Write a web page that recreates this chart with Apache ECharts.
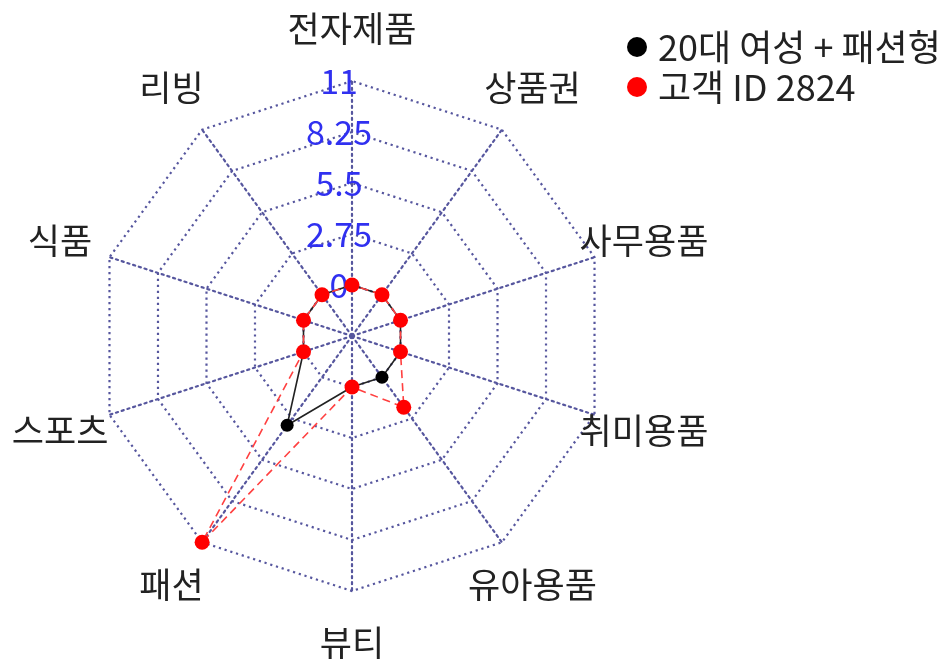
<!DOCTYPE html>
<html>
<head>
<meta charset="utf-8">
<script src="https://cdn.jsdelivr.net/npm/echarts@6/dist/echarts.min.js"></script>
<style>
	html, body { margin: 0; padding: 0; background: #fff; }
	#main { width: 946px; height: 663px; }
</style>
</head>
<body>
<div id="main"></div>
<script>
	// 축 순서 (echarts radar는 반시계 방향이라 화면에서는 위에서 시계 방향으로 보임)
	var categories = ['전자제품', '리빙', '식품', '스포츠', '패션', '뷰티', '유아용품', '취미용품', '사무용품', '상품권'];
	var seriesNames = ['20대 여성 + 패션형', '고객 ID 2824'];
	var groupValues = [0, 0, 0, 0, 3.2, 0, 0, 0, 0, 0];
	var customerValues = [0, 0, 0, 0, 11, 0, 2, 0, 0, 0];
	var tickLabels = ['0', '2.75', '5.5', '8.25', '11'];
	var axisMin = -2.75;
	var axisMax = 11;

	var FONT = '"Noto Sans CJK KR", "Noto Sans", sans-serif';
	var gridLine = { color: '#56569e', width: 2.2, type: [2.2, 3.8] };

	let myChart = echarts.init(document.getElementById('main'));

	let indicators = categories.map(function (name, i) {
		let ind = { name: name, min: axisMin, max: axisMax };
		// 눈금 숫자는 맨 위 축에만
		if (i === 0) {
			ind.axisLabel = { show: true };
		}
		return ind;
	});

	let option = {
		animation: false,
		legend: {
			orient: 'vertical',
			left: 622,
			top: 24,
			itemWidth: 20,
			itemHeight: 20,
			itemGap: 4,
			icon: 'circle',
			data: seriesNames,
			textStyle: { fontSize: 36, color: '#222', fontFamily: FONT, padding: [0, 0, 0, 6] }
		},
		radar: {
			center: [352, 336],
			radius: 255,
			startAngle: 90,
			shape: 'polygon',
			splitNumber: 5,
			indicator: indicators,
			axisName: {
				color: '#222',
				fontSize: 35,
				fontFamily: FONT,
				align: 'center',
				verticalAlign: 'middle'
			},
			nameGap: 52,
			axisLine: { lineStyle: gridLine },
			splitLine: { lineStyle: gridLine },
			splitArea: { show: false },
			axisTick: { show: false },
			axisLabel: {
				show: false,
				color: '#3030f0',
				fontSize: 34,
				fontFamily: FONT,
				margin: 13,
				align: 'center',
				verticalAlign: 'middle',
				padding: [0, 0, 6, 0],
				formatter: function (value, index) {
					return index === 0 ? '' : tickLabels[index - 1];
				}
			}
		},
		series: [
			{
				type: 'radar',
				name: seriesNames[0],
				symbol: 'circle',
				symbolSize: 13,
				itemStyle: { color: '#000' },
				lineStyle: { color: '#222', width: 1.6, type: 'solid' },
				data: [{ name: seriesNames[0], value: groupValues }]
			},
			{
				type: 'radar',
				name: seriesNames[1],
				symbol: 'circle',
				symbolSize: 15,
				itemStyle: { color: '#ff0000' },
				lineStyle: { color: '#ff4040', width: 1.6, type: [8, 5] },
				data: [{ name: seriesNames[1], value: customerValues }]
			}
		]
	};

	myChart.setOption(option);
</script>
</body>
</html>
